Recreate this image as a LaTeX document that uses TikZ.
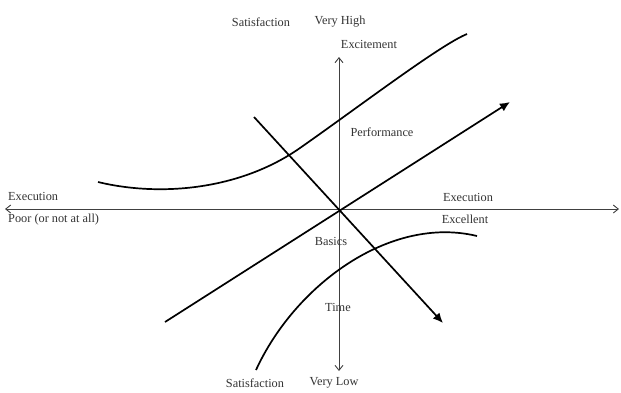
\documentclass[tikz,border=0pt]{standalone}
\usepackage{fontspec}
\setmainfont{Liberation Serif}
\usetikzlibrary{arrows.meta}
\begin{document}
\begin{tikzpicture}[x=1pt,y=-1pt,
  axis/.style={line width=0.9pt,draw=black!75,-{Straight Barb[length=5pt,width=8pt]}},
  bold/.style={line width=1.7pt,draw=black},
  boldarrow/.style={bold,-{Latex[length=10pt,width=9pt]}},
  lbl/.style={font=\fontsize{12.3}{13}\selectfont,text=black!80,inner sep=0pt}]
\useasboundingbox (0,0) rectangle (621,392);
% axis coordinates
\coordinate (O) at (339,209);
\coordinate (L) at (5,209);
\coordinate (R) at (619,209);
\coordinate (T) at (339,57);
\coordinate (B) at (339,371);
\draw[axis] (O) -- (R);
\draw[axis] (O) -- (L);
\draw[axis] (O) -- (T);
\draw[axis] (O) -- (B);
% performance and time lines
\coordinate (P1) at (165,322);
\coordinate (P2) at (510,102);
\coordinate (T1) at (254,117);
\coordinate (T2) at (443,323);
\draw[boldarrow] (P1) -- (P2);
\draw[boldarrow] (T1) -- (T2);
% excitement curve
\coordinate (X1) at (98,182);
\coordinate (X2) at (300,148);
\coordinate (X3) at (467,34);
\draw[bold] (X1) .. controls (160,197) and (240,190) .. (X2)
                 .. controls (360,106) and (440,45) .. (X3);
% basics curve
\coordinate (B1) at (256,370);
\coordinate (B2) at (477,236);
\draw[bold] (B1) .. controls (295,285) and (390,215) .. (B2);
% labels
\node[lbl] (s1) at (261,22) {Satisfaction};
\node[lbl] (vh) at (340,22) {Very High};
\node[lbl] (ex) at (369,44) {Excitement};
\node[lbl,anchor=west] (e1) at (8,196) {Execution};
\node[lbl,anchor=west] (pr) at (8,220) {Poor (or not at all)};
\node[lbl] (e2) at (468,197) {Execution};
\node[lbl] (xl) at (465,219) {Excellent};
\node[lbl] (pf) at (382,132) {Performance};
\node[lbl] (bs) at (331,241) {Basics};
\node[lbl] (tm) at (338,307) {Time};
\node[lbl] (s2) at (255,383) {Satisfaction};
\node[lbl] (vl) at (334,383) {Very Low};
\end{tikzpicture}
\end{document}
